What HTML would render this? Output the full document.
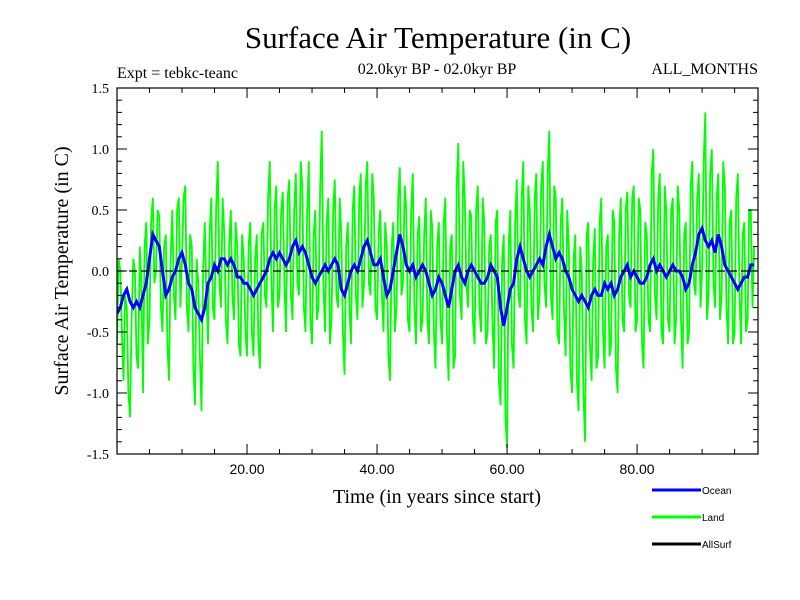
<!DOCTYPE html>
<html><head><meta charset="utf-8"><style>
body{margin:0;background:#fff;}
svg{display:block;}
.serif{font-family:"Liberation Serif",serif;}
.sans{font-family:"Liberation Sans",sans-serif;}
</style></head><body>
<svg id="chart" width="800" height="600" viewBox="0 0 800 600" xmlns="http://www.w3.org/2000/svg">
<rect width="800" height="600" fill="#fff"/>
<text class="serif" x="438" y="48" font-size="31" text-anchor="middle">Surface Air Temperature (in C)</text>
<text class="serif" x="117" y="78" font-size="16">Expt = tebkc-teanc</text>
<text class="serif" x="437" y="74" font-size="16" text-anchor="middle">02.0kyr BP - 02.0kyr BP</text>
<text class="serif" x="758" y="74" font-size="16" text-anchor="end">ALL_MONTHS</text>
<text class="serif" font-size="20" text-anchor="middle" transform="translate(68,271) rotate(-90)">Surface Air Temperature (in C)</text>
<text class="serif" x="437" y="503" font-size="20" text-anchor="middle">Time (in years since start)</text>
<g id="plot"></g>
<g>
<g><line x1="652" y1="490" x2="701" y2="490" stroke="#0000ff" stroke-width="3"/><text class="sans" x="702" y="494" font-size="10">Ocean</text></g>
<g><line x1="652" y1="517" x2="701" y2="517" stroke="#00ff00" stroke-width="3"/><text class="sans" x="702" y="521" font-size="10">Land</text></g>
<g><line x1="652" y1="544" x2="701" y2="544" stroke="#000" stroke-width="3"/><text class="sans" x="702" y="548" font-size="10">AllSurf</text></g>
</g>
</svg>
<script>
const xTickValues=[20,40,60,80];
const xTickLabels=["20.00","40.00","60.00","80.00"];
const yTickValues=[-1.5,-1.0,-0.5,0.0,0.5,1.0,1.5];
const yTickLabels=["-1.5","-1.0","-0.5","0.0","0.5","1.0","1.5"];
const timeStep=0.5;
const oceanValues=[-0.35,-0.3,-0.2,-0.15,-0.25,-0.3,-0.25,-0.3,-0.2,-0.1,
0.1,0.3,0.25,0.2,0.0,-0.2,-0.15,-0.05,0.0,0.1,
0.15,0.05,-0.1,-0.15,-0.3,-0.35,-0.4,-0.3,-0.1,-0.05,
0.05,0.0,0.1,0.1,0.05,0.1,0.05,-0.05,-0.05,-0.1,
-0.1,-0.15,-0.2,-0.15,-0.1,-0.05,0.0,0.1,0.15,0.1,
0.15,0.1,0.05,0.1,0.2,0.25,0.15,0.2,0.15,0.05,
-0.05,-0.1,-0.05,0.0,0.05,0.0,0.05,0.1,0.05,-0.15,
-0.2,-0.1,0.0,0.05,0.0,0.1,0.2,0.25,0.15,0.05,
0.05,0.1,-0.05,-0.2,-0.15,0.0,0.15,0.3,0.2,0.05,
0.0,0.05,-0.05,0.0,0.05,0.0,-0.1,-0.2,-0.15,-0.05,
-0.1,-0.2,-0.3,-0.15,0.0,0.05,-0.05,-0.1,0.0,0.05,
0.0,-0.05,-0.1,-0.1,-0.05,0.05,0.0,-0.05,-0.3,-0.45,
-0.3,-0.15,-0.1,0.1,0.2,0.1,0.0,-0.05,0.0,0.05,
0.1,0.05,0.2,0.3,0.2,0.1,0.15,0.1,0.0,-0.05,
-0.15,-0.2,-0.25,-0.2,-0.25,-0.3,-0.2,-0.15,-0.2,-0.2,
-0.1,-0.15,-0.1,-0.2,-0.15,-0.05,0.0,0.05,-0.05,0.0,
-0.05,-0.1,-0.1,-0.05,0.05,0.1,0.0,0.05,0.0,-0.05,
0.0,0.05,0.0,0.0,-0.05,-0.15,-0.1,0.05,0.15,0.3,
0.35,0.25,0.2,0.25,0.15,0.3,0.2,0.05,0.0,-0.05,
-0.1,-0.15,-0.1,-0.05,-0.05,0.05,0.05];
// land on the half-year
const landValues=[-0.6,0.0,-0.9,-0.3,-1.2,0.1,-0.7,0.2,-1.0,0.4,
-0.4,0.6,0.0,0.45,-0.5,0.3,-0.9,0.5,-0.4,0.6,
0.1,0.7,-0.5,0.2,-1.1,-0.1,-1.15,0.4,-0.6,0.6,
-0.4,0.9,-0.3,0.3,-0.6,0.5,-0.4,0.2,-0.7,0.1,
-0.7,0.4,-0.7,0.3,-0.8,0.4,-0.3,0.9,-0.5,0.7,
-0.2,0.65,-0.5,0.75,-0.4,0.8,-0.2,0.7,-0.5,0.9,
-0.6,0.5,-0.3,1.15,-0.5,0.6,-0.4,0.75,-0.3,0.3,
-0.85,0.4,-0.6,0.7,-0.4,0.8,-0.1,0.9,-0.2,0.6,
-0.4,0.5,-0.5,0.2,-0.9,0.4,-0.3,0.85,-0.1,0.5,
-0.5,0.8,-0.6,0.45,-0.4,0.6,-0.6,0.35,-0.8,0.4,
-0.6,0.6,-0.9,0.3,-0.7,1.05,-0.4,0.6,-0.3,0.45,
-0.6,0.7,-0.5,0.4,-0.5,0.3,-0.8,0.5,-1.1,0.3,
-1.45,0.5,-0.8,0.75,-0.3,0.9,-0.6,0.5,-0.5,0.8,
-0.2,0.9,-0.3,1.15,-0.4,0.6,-0.6,0.6,-0.7,0.2,
-1.0,0.3,-1.15,0.0,-1.4,0.4,-0.9,0.35,-0.7,0.6,
-0.8,0.3,-0.6,0.4,-1.0,0.6,-0.5,0.65,-0.3,0.7,
-0.4,0.5,-0.8,0.3,-0.5,1.0,-0.4,0.8,-0.6,0.5,
-0.5,0.6,-0.4,0.5,-0.8,0.4,-0.5,0.9,-0.2,0.8,
0.0,1.3,-0.2,1.0,-0.3,0.8,-0.2,0.7,-0.6,0.5,
-0.5,0.8,-0.6,0.4,-0.4,0.5,0.2];
// land on the quarter-year offsets (between the half-year samples)
const landValuesB=[0.1,-0.5,-0.2,-1.0,-0.4,0.0,-0.8,-0.1,0.2,-0.6,
0.4,-0.1,0.5,-0.3,0.2,-0.6,0.1,-0.2,0.5,-0.3,
0.6,-0.3,0.3,-0.8,0.1,-0.7,0.0,-0.2,0.3,-0.3,
0.5,-0.1,0.6,-0.4,0.2,-0.2,0.4,-0.6,0.3,-0.5,
0.2,-0.5,0.1,-0.6,0.3,-0.2,0.6,-0.1,0.5,-0.3,
0.5,-0.1,0.6,-0.2,0.5,-0.1,0.9,-0.3,0.5,-0.4,
0.3,-0.4,0.7,-0.1,0.4,-0.6,0.5,-0.2,0.6,-0.5,
0.2,-0.3,0.5,-0.2,0.6,-0.3,0.7,-0.1,0.8,-0.3,
0.3,-0.2,0.4,-0.7,0.2,-0.5,0.6,-0.2,0.7,-0.4,
0.5,-0.3,0.3,-0.5,0.3,-0.4,0.5,-0.5,0.2,-0.4,
0.4,-0.5,0.2,-0.8,0.7,-0.2,0.9,-0.1,0.5,-0.4,
0.5,-0.3,0.6,-0.6,0.2,-0.4,0.4,-0.9,0.1,-1.2,
0.2,-0.6,0.4,-0.2,0.6,-0.4,0.7,-0.3,0.6,-0.4,
0.7,-0.1,0.8,-0.2,0.7,-0.5,0.4,-0.3,0.5,-0.8,
0.1,-0.9,0.2,-1.0,0.3,-0.6,0.1,-0.8,0.4,-0.5,
0.2,-0.7,0.5,-0.8,0.3,-0.4,0.5,-0.2,0.6,-0.5,
0.6,-0.6,0.4,-0.4,0.8,-0.2,0.6,-0.5,0.7,-0.4,
0.5,-0.6,0.7,-0.4,0.3,-0.6,0.7,-0.1,0.6,-0.3,
0.9,-0.4,0.8,-0.1,0.6,-0.4,0.9,-0.3,0.4,-0.6,
0.6,-0.2,0.3,-0.5,0.5,-0.3];

const NS="http://www.w3.org/2000/svg";
const L=117,R=758,T=88,B=454,xMin=0,xMax=98.6,yMin=-1.5,yMax=1.5;
const xs=v=>L+(v-xMin)/(xMax-xMin)*(R-L);
const ys=v=>B-(v-yMin)/(yMax-yMin)*(B-T);
const plot=document.getElementById('plot');
function mk(tag,attrs){const e=document.createElementNS(NS,tag);for(const k in attrs)e.setAttribute(k,attrs[k]);return e;}

const clip=mk('clipPath',{id:'pc'});clip.appendChild(mk('rect',{x:L,y:T,width:R-L,height:B-T}));plot.appendChild(clip);

function series(pts2,color,w,name){
  const pts=pts2.map(p=>xs(p[0]).toFixed(1)+','+ys(p[1]).toFixed(1)).join(' ');
  const p=mk('polyline',{points:pts,fill:'none',stroke:color,'stroke-width':w,'clip-path':'url(#pc)','stroke-linejoin':'miter'});
  
  
  plot.appendChild(p);
}
const landPts=[];
landValues.forEach((v,i)=>{
  landPts.push([i*timeStep,v]);
  if(i<landValuesB.length) landPts.push([i*timeStep+timeStep/2,landValuesB[i]]);
});
series(landPts,'#00ff00',1.8,'land-series');
series(oceanValues.map((v,i)=>[i*timeStep,v]),'#0000ff',3,'ocean-series');

const zl=mk('line',{x1:L,x2:R,y1:ys(0),y2:ys(0),stroke:'#000','stroke-width':1.2,'stroke-dasharray':'8,4'});


plot.appendChild(zl);

const frame=mk('rect',{x:L,y:T,width:R-L,height:B-T,fill:'none',stroke:'#000','stroke-width':1.2});


plot.appendChild(frame);

for(let v=5;v<xMax;v+=5){
  const major=v%20===0, len=major?10:5;
  plot.appendChild(mk('line',{x1:xs(v),x2:xs(v),y1:B,y2:B-len,stroke:'#000','stroke-width':1}));
  plot.appendChild(mk('line',{x1:xs(v),x2:xs(v),y1:T,y2:T+len,stroke:'#000','stroke-width':1}));
}
for(let k=-14;k<=14;k++){
  const v=k/10, major=k%5===0, len=major?10:5;
  plot.appendChild(mk('line',{x1:L,x2:L+len,y1:ys(v),y2:ys(v),stroke:'#000','stroke-width':1}));
  plot.appendChild(mk('line',{x1:R,x2:R-len,y1:ys(v),y2:ys(v),stroke:'#000','stroke-width':1}));
}
xTickValues.forEach((v,i)=>{
  const t=mk('text',{x:xs(v),y:B+20,'font-size':14,'text-anchor':'middle','class':'sans'});
  t.textContent=xTickLabels[i];
  
  
  plot.appendChild(t);
});
yTickValues.forEach((v,i)=>{
  const t=mk('text',{x:L-8,y:ys(v)+5,'font-size':14,'text-anchor':'end','class':'serif'});
  t.textContent=yTickLabels[i];
  
  
  plot.appendChild(t);
});
</script>
</body></html>
